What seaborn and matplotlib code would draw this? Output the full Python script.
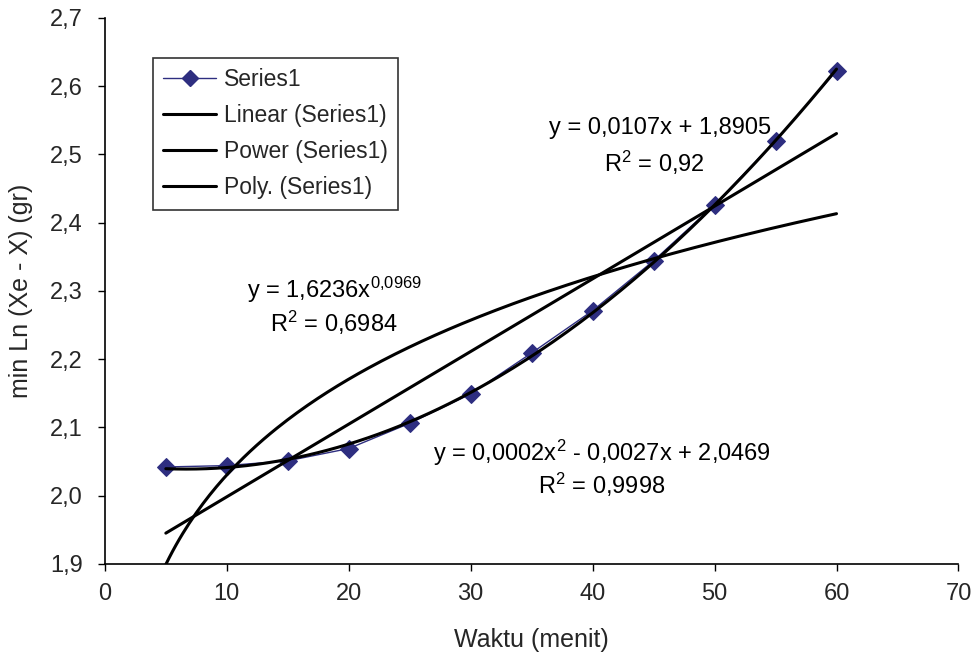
import numpy as np
import pandas as pd
import matplotlib
matplotlib.use("Agg")
import matplotlib.pyplot as plt
import seaborn as sns
from matplotlib.lines import Line2D

# Data
waktu = [5, 10, 15, 20, 25, 30, 35, 40, 45, 50, 55, 60]
min_ln = [2.042, 2.044, 2.051, 2.069, 2.106, 2.149, 2.209, 2.271, 2.344, 2.426, 2.520, 2.622]
x_ticks = [0, 10, 20, 30, 40, 50, 60, 70]
y_ticks = [1.9, 2.0, 2.1, 2.2, 2.3, 2.4, 2.5, 2.6, 2.7]
legend_labels = ["Series1", "Linear (Series1)", "Power (Series1)", "Poly. (Series1)"]
eq_linear = ["y = 0,0107x + 1,8905", "R$^2$ = 0,92"]
eq_power = ["y = 1,6236x$^{0{,}0969}$", "R$^2$ = 0,6984"]
eq_poly = ["y = 0,0002x$^2$ - 0,0027x + 2,0469", "R$^2$ = 0,9998"]

sns.set_theme(style="white")
plt.rcParams['font.family'] = ['Liberation Sans', 'DejaVu Sans']
plt.rcParams['mathtext.fontset'] = 'custom'
plt.rcParams['mathtext.rm'] = 'Liberation Sans'
plt.rcParams['mathtext.it'] = 'Liberation Sans'

FS = 17

df = pd.DataFrame({"Waktu": waktu, "val": min_ln})

fig = plt.figure(figsize=(9.8, 6.58), dpi=100)
ax = fig.add_axes([0.107, 0.143, 0.871, 0.830])

series_color = "#2E2E80"
sns.lineplot(data=df, x="Waktu", y="val", ax=ax, color=series_color, lw=1,
             marker="D", markersize=9, markeredgecolor=series_color,
             markerfacecolor=series_color, zorder=2)

x = np.array(waktu, dtype=float)
y = np.array(min_ln, dtype=float)
xs = np.linspace(x.min(), x.max(), 200)
# linear
b1 = np.polyfit(x, y, 1)
ax.plot(xs, np.polyval(b1, xs), color="black", lw=2.2, zorder=3)
# power
bp = np.polyfit(np.log(x), np.log(y), 1)
ax.plot(xs, np.exp(bp[1]) * xs ** bp[0], color="black", lw=2.2, zorder=3)
# poly 2
b2 = np.polyfit(x, y, 2)
ax.plot(xs, np.polyval(b2, xs), color="black", lw=2.2, zorder=3)

ax.set_xlim(0, 70)
ax.set_ylim(1.9, 2.7)
ax.set_xticks(x_ticks)
ax.set_yticks(y_ticks)
ax.set_xticklabels([str(t) for t in x_ticks], fontsize=FS)
ax.set_yticklabels([f"{t:.1f}".replace(".", ",") for t in y_ticks], fontsize=FS)
ax.tick_params(axis="x", direction="out", length=5, width=1, color="black",
               bottom=True, pad=9)
ax.tick_params(axis="y", direction="out", length=5, width=1, color="black",
               left=True, pad=11)
for s in ["top", "right"]:
    ax.spines[s].set_visible(False)
for s in ["left", "bottom"]:
    ax.spines[s].set_color("black")
    ax.spines[s].set_linewidth(1.2)

ax.set_xlabel("Waktu (menit)", fontsize=18, labelpad=16)
ax.set_ylabel("min Ln (Xe - X) (gr)", fontsize=18, labelpad=12)

def put(lines, px1, py1, px2, py2):
    for txt, px, py in zip(lines, (px1, px2), (py1, py2)):
        fx = (px - 105) / (958 - 105) * 70
        fy = 1.9 + (564 - py) / 546 * 0.8
        ax.text(fx, fy, txt, fontsize=FS, ha="center", va="center", color="black")

put(eq_linear, 660, 128, 654, 163)
put(eq_power, 334, 290, 334, 323)
put(eq_poly, 602, 453, 601, 485)

handles = [
    Line2D([], [], color=series_color, lw=1, marker="D", markersize=8,
           markerfacecolor=series_color, markeredgecolor=series_color),
    Line2D([], [], color="black", lw=2.2),
    Line2D([], [], color="black", lw=2.2),
    Line2D([], [], color="black", lw=2.2),
]
leg = ax.legend(handles, legend_labels, loc="upper left",
                bbox_to_anchor=((153 - 105) / 853, 1 - (58 - 18) / 546),
                fontsize=16.5, frameon=True, fancybox=False, handlelength=2.3,
                borderpad=0.45, labelspacing=0.57, handletextpad=0.35, borderaxespad=0)
leg.get_frame().set_edgecolor("black")
leg.get_frame().set_linewidth(1.2)

fig.savefig("out.png", dpi=100)
